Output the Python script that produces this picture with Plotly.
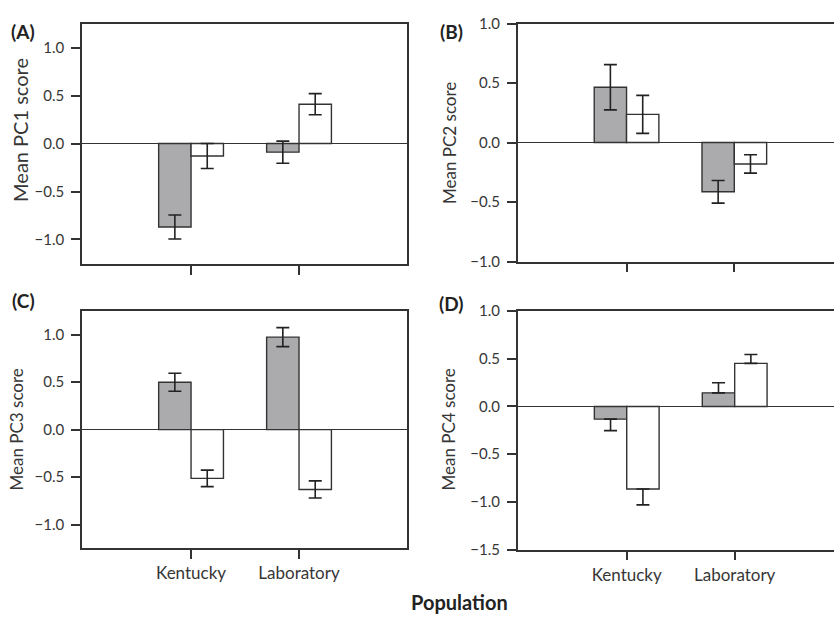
import plotly.graph_objects as go

W, H = 834, 623

categories = ["Kentucky", "Laboratory"]
xpos = [0, 1]

# Panel A (PC1)
pc1_gray = [-0.87, -0.09]
pc1_gray_err = [0.125, 0.115]
pc1_white = [-0.13, 0.41]
pc1_white_err = [0.13, 0.11]

# Panel B (PC2)
pc2_gray = [0.465, -0.414]
pc2_gray_err = [0.19, 0.095]
pc2_white = [0.237, -0.18]
pc2_white_err = [0.16, 0.077]

# Panel C (PC3)
pc3_gray = [0.50, 0.975]
pc3_gray_err = [0.095, 0.10]
pc3_white = [-0.513, -0.63]
pc3_white_err = [0.087, 0.09]

# Panel D (PC4) - one-sided error bars
pc4_gray = [-0.133, 0.143]
pc4_gray_err_up = [0.0, 0.105]
pc4_gray_err_down = [0.12, 0.0]
pc4_white = [-0.864, 0.452]
pc4_white_err_up = [0.0, 0.092]
pc4_white_err_down = [0.167, 0.0]

y_ticks_A = [-1.0, -0.5, 0.0, 0.5, 1.0]
y_ticks_D = [-1.5, -1.0, -0.5, 0.0, 0.5, 1.0]

FONT = "Lato"
GRAY = "#ababad"
EDGE = "#333333"
TXT = "#363636"

def px(x):
    return x / W

def py(y):
    return 1 - y / H

fig = go.Figure()

def add_pair(axn, gray, gerr, white, werr, gerr_minus=None, werr_minus=None):
    xa = "x" if axn == 1 else f"x{axn}"
    ya = "y" if axn == 1 else f"y{axn}"
    for vals, err, errm, col in [(gray, gerr, gerr_minus, GRAY), (white, werr, werr_minus, "#ffffff")]:
        ey = dict(type="data", array=err, color="#222222", thickness=1.6, width=6.5, visible=True)
        if errm is not None:
            ey["symmetric"] = False
            ey["arrayminus"] = errm
        fig.add_trace(go.Bar(
            x=xpos, y=vals, xaxis=xa, yaxis=ya,
            marker=dict(color=col, line=dict(color=EDGE, width=1.4)),
            error_y=ey, showlegend=False,
        ))

add_pair(1, pc1_gray, pc1_gray_err, pc1_white, pc1_white_err)
add_pair(2, pc2_gray, pc2_gray_err, pc2_white, pc2_white_err)
add_pair(3, pc3_gray, pc3_gray_err, pc3_white, pc3_white_err)
add_pair(4, pc4_gray, pc4_gray_err_up, pc4_white, pc4_white_err_up,
         gerr_minus=pc4_gray_err_down, werr_minus=pc4_white_err_down)

def xaxis(domain, rng, labels, anchor):
    return dict(domain=domain, range=rng, anchor=anchor, showline=True, linecolor=EDGE, linewidth=1.5,
                mirror=True, ticks="outside", ticklen=9, tickwidth=1.5, tickcolor=EDGE,
                tickvals=xpos, ticktext=categories if labels else ["", ""],
                showgrid=False, zeroline=False, fixedrange=True,
                tickfont=dict(family=FONT, size=17, color=TXT))

def yaxis(domain, rng, tv, mirror, anchor):
    return dict(domain=domain, range=rng, anchor=anchor, showline=True, linecolor=EDGE, linewidth=1.5,
                mirror=mirror, ticks="outside", ticklen=9, tickwidth=1.5, tickcolor=EDGE,
                tickvals=tv, tickformat=".1f", showgrid=False,
                zeroline=True, zerolinecolor=EDGE, zerolinewidth=1.3,
                ticklabelstandoff=4, fixedrange=True,
                tickfont=dict(family=FONT, size=15, color=TXT))

xA = [px(82), px(407)]
xB = [px(517.7), 1.0]
fig.update_layout(
    width=W, height=H, margin=dict(l=0, r=0, t=0, b=0),
    paper_bgcolor="white", plot_bgcolor="white",
    barmode="group", bargap=0.4, bargroupgap=0,
    xaxis=xaxis(xA, [-1.01, 2.0], False, "y"),
    yaxis=yaxis([py(262), py(14)], [-1.26, 1.25], y_ticks_A, True, "x"),
    xaxis2=xaxis(xB, [-1.01, 1.925], False, "y2"),
    yaxis2=yaxis([py(259), py(14)], [-1.0, 1.0], y_ticks_A, False, "x2"),
    xaxis3=xaxis(xA, [-1.01, 2.0], True, "y3"),
    yaxis3=yaxis([py(554.3), py(310)], [-1.25, 1.25], y_ticks_A, True, "x3"),
    xaxis4=xaxis(xB, [-1.01, 1.92], True, "y4"),
    yaxis4=yaxis([py(555.7), py(310)], [-1.5, 1.0], y_ticks_D, False, "x4"),
)

anns = []
for txt, x, y in [("(A)", 23, 22), ("(B)", 451, 22), ("(C)", 23, 299), ("(D)", 451, 302)]:
    anns.append(dict(text=f"<b>{txt}</b>", x=px(x), y=py(y), xref="paper", yref="paper",
                     showarrow=False, xanchor="center", yanchor="middle",
                     font=dict(family=FONT, size=19, color="#222222")))
for txt, x, y, s in [("Mean PC1 score", 20, 123.5, 20), ("Mean PC2 score", 449, 137, 17),
                     ("Mean PC3 score", 17, 432, 17), ("Mean PC4 score", 449, 432, 17)]:
    anns.append(dict(text=txt, x=px(x), y=py(y), xref="paper", yref="paper", textangle=-90,
                     showarrow=False, xanchor="center", yanchor="middle",
                     font=dict(family=FONT, size=s, color=TXT)))
anns.append(dict(text="<b>Population</b>", x=px(459), y=py(610), xref="paper", yref="paper",
                 showarrow=False, xanchor="center", yanchor="middle",
                 font=dict(family=FONT, size=20, color="#222222")))
fig.update_layout(annotations=anns)

fig.write_html("out.html", config={"displayModeBar": False},
               post_script="document.body.style.margin='0';document.body.style.overflow='hidden';")
